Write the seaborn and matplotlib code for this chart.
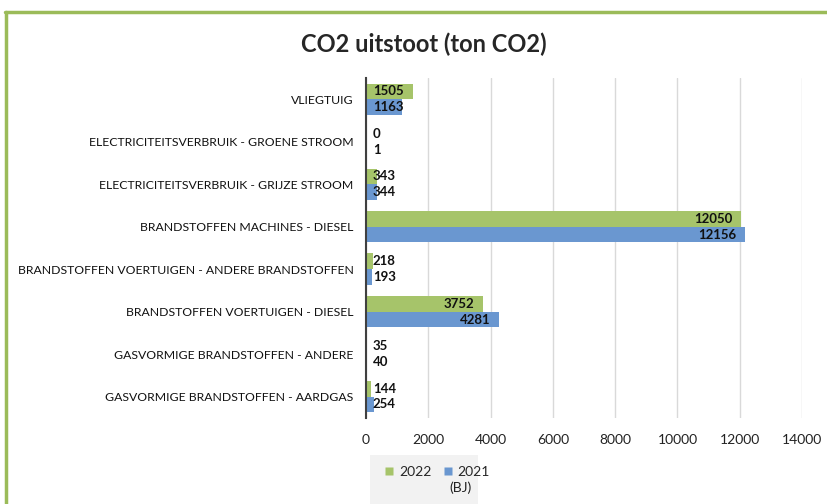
import pandas as pd
import numpy as np
import matplotlib
matplotlib.use('Agg')
import matplotlib.pyplot as plt
import seaborn as sns
from matplotlib.lines import Line2D
from matplotlib.patches import Rectangle

sns.set_theme(style='white')
plt.rcParams['font.family'] = ['Lato', 'DejaVu Sans']

# Data
categories = [
    'VLIEGTUIG',
    'ELECTRICITEITSVERBRUIK - GROENE STROOM',
    'ELECTRICITEITSVERBRUIK - GRIJZE STROOM',
    'BRANDSTOFFEN MACHINES - DIESEL',
    'BRANDSTOFFEN VOERTUIGEN - ANDERE BRANDSTOFFEN',
    'BRANDSTOFFEN VOERTUIGEN - DIESEL',
    'GASVORMIGE BRANDSTOFFEN - ANDERE',
    'GASVORMIGE BRANDSTOFFEN - AARDGAS',
]
values_2022 = [1505, 0, 343, 12050, 218, 3752, 35, 144]
values_2021 = [1163, 1, 344, 12156, 193, 4281, 40, 254]
series = ['2022', '2021']
colors = ['#a6c46a', '#6a97d0']

df = pd.DataFrame({
    'Categorie': categories * 2,
    'Jaar': [series[0]] * len(categories) + [series[1]] * len(categories),
    'Waarde': values_2022 + values_2021,
})

fig = plt.figure(figsize=(8.27, 5.04), dpi=100)
ax = fig.add_axes([0.4426, 0.171, 0.5272, 0.674])

sns.barplot(data=df, y='Categorie', x='Waarde', hue='Jaar', order=categories,
            hue_order=series, palette=colors, orient='h', width=0.74,
            saturation=1, edgecolor='none', legend=False, ax=ax)

ax.set_xlim(0, 14000)
ax.set_ylim(len(categories) - 0.5, -0.5)
ax.set_xticks(np.arange(0, 14001, 2000))
ax.xaxis.grid(True, color='#d9d9d9', linewidth=1)
ax.set_axisbelow(True)
ax.set_xlabel('')
ax.set_ylabel('')
for s in ['top', 'right', 'bottom']:
    ax.spines[s].set_visible(False)
ax.spines['left'].set_color('#404040')
ax.spines['left'].set_linewidth(1.5)
ax.tick_params(axis='both', length=0)
ax.tick_params(axis='x', labelsize=10, colors='#222222', pad=12)
ax.tick_params(axis='y', labelsize=8.8, colors='#111111', pad=9)

# data labels
fig.canvas.draw()
renderer = fig.canvas.get_renderer()
px_per_unit = ax.get_window_extent().width / 14000
for container in ax.containers:
    for bar in container:
        w = bar.get_width()
        yc = bar.get_y() + bar.get_height() / 2
        t = ax.text(0, yc, f'{int(w)}', fontsize=9.5, fontweight='bold',
                    va='center', color='#111111')
        tw = t.get_window_extent(renderer).width
        if w * px_per_unit > tw + 14:
            t.set_x(w - 280)
            t.set_ha('right')
        else:
            t.set_x(220)
            t.set_ha('left')

fig.suptitle('CO2 uitstoot (ton CO2)', x=0.512, y=0.935, fontsize=17, fontweight='bold')

# legend with grey background box
fig.add_artist(Rectangle((0.447, 0.0), 0.131, 0.097, transform=fig.transFigure,
                         facecolor='#f2f2f2', edgecolor='none', zorder=1))
handles = [Line2D([0], [0], marker='s', linestyle='none', markersize=6,
                  markerfacecolor=c, markeredgecolor='none') for c in colors]
leg = fig.legend(handles, series, loc='upper left', bbox_to_anchor=(0.452, 0.095),
                 ncol=2, frameon=False, fontsize=10, handletextpad=0.3,
                 columnspacing=0.8, borderpad=0.2, handlelength=0.8)
leg.set_zorder(2)
fig.text(0.543, 0.045, '(BJ)', fontsize=10, color='#222222', va='top', ha='left', zorder=3)

# green outer border
fig.add_artist(Line2D([0.007, 0.007], [0.0, 0.977], color='#9bbb59', linewidth=2.5,
                      transform=fig.transFigure))
fig.add_artist(Line2D([0.006, 1.0], [0.977, 0.977], color='#9bbb59', linewidth=2.5,
                      transform=fig.transFigure))

fig.savefig('out.png', dpi=100, facecolor='white')
